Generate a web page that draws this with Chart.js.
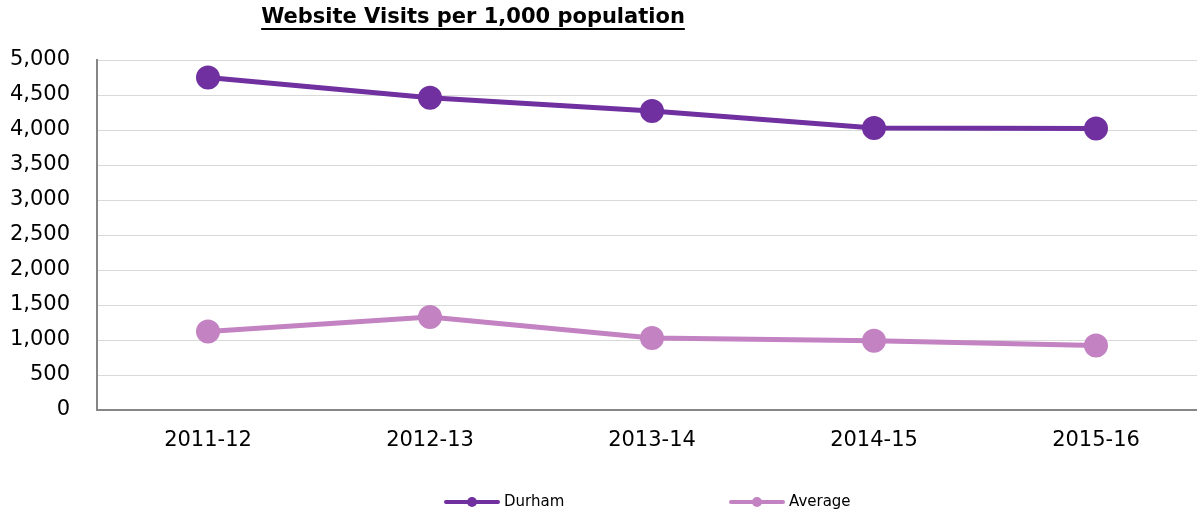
<!DOCTYPE html>
<html>
<head>
<meta charset="utf-8">
<script src="https://cdn.jsdelivr.net/npm/chart.js@4/dist/chart.umd.min.js"></script>
<style>
  html, body { margin: 0; padding: 0; background: #fff; overflow: hidden; }
  /* plot runs a little past the right edge, as in the original */
  #wrap { width: 1207px; height: 513px; }
</style>
</head>
<body>
<div id="wrap"><canvas id="chart"></canvas></div>
<script>
const years = ["2011-12", "2012-13", "2013-14", "2014-15", "2015-16"];
const durham = [4750, 4460, 4270, 4030, 4020];
const average = [1120, 1330, 1030, 990, 920];
const seriesNames = ["Durham", "Average"];
const seriesColors = ["#7030A0", "#C382C2"];
const chartTitle = "Website Visits per 1,000 population";

const font = "'DejaVu Sans', Verdana, sans-serif";

// title with underline, drawn by hand since Chart.js has no underline
const titlePlugin = {
    id: "ulTitle",
    afterDraw(chart) {
        const ctx = chart.ctx;
        ctx.save();
        ctx.font = "bold 21px " + font;
        ctx.fillStyle = "#000";
        ctx.textAlign = "center";
        ctx.textBaseline = "middle";
        const cx = 473, cy = 18;
        ctx.fillText(chartTitle, cx, cy);
        const w = ctx.measureText(chartTitle).width;
        ctx.fillRect(cx - w / 2, cy + 10, w, 2);
        ctx.restore();
    }
};

// legend with line + marker
const legendPlugin = {
    id: "lineLegend",
    afterDraw(chart) {
        const ctx = chart.ctx;
        const starts = [446, 731];
        ctx.save();
        ctx.font = "15px " + font;
        ctx.textBaseline = "middle";
        chart.data.datasets.forEach((ds, i) => {
            const x = starts[i], y = 502;
            ctx.strokeStyle = ds.borderColor;
            ctx.lineWidth = 4;
            ctx.lineCap = "round";
            ctx.beginPath();
            ctx.moveTo(x, y);
            ctx.lineTo(x + 52, y);
            ctx.stroke();
            ctx.fillStyle = ds.borderColor;
            ctx.beginPath();
            ctx.arc(x + 26, y, 5, 0, Math.PI * 2);
            ctx.fill();
            ctx.fillStyle = "#000";
            ctx.fillText(ds.label, x + 58, y);
        });
        ctx.restore();
    }
};

new Chart(document.getElementById("chart").getContext("2d"), {
    type: "line",
    data: {
        labels: years,
        datasets: [
            {
                label: seriesNames[0],
                data: durham,
                borderColor: seriesColors[0],
                backgroundColor: seriesColors[0],
                borderWidth: 5,
                pointRadius: 9.5,
                pointHoverRadius: 9.5,
                tension: 0
            },
            {
                label: seriesNames[1],
                data: average,
                borderColor: seriesColors[1],
                backgroundColor: seriesColors[1],
                borderWidth: 5,
                pointRadius: 9.5,
                pointHoverRadius: 9.5,
                tension: 0
            }
        ]
    },
    options: {
        responsive: true,
        maintainAspectRatio: false,
        animation: false,
        layout: { autoPadding: false, padding: { top: 60, left: 0, right: 0, bottom: 0 } },
        plugins: {
            legend: { display: false },
            title: { display: false },
            tooltip: { enabled: false }
        },
        scales: {
            x: {
                offset: true,
                grid: { display: false, drawTicks: false },
                border: { color: "#868686", width: 2 },
                ticks: { color: "#000", padding: 18, font: { family: font, size: 21 } },
                afterFit(scale) {
                    scale.height = 103;
                    scale.paddingLeft = 0;
                    scale.paddingRight = 0;
                }
            },
            y: {
                min: 0,
                max: 5000,
                grid: { color: "#d9d9d9", drawTicks: false },
                border: { color: "#868686", width: 2 },
                ticks: {
                    stepSize: 500,
                    color: "#000",
                    padding: 27,
                    font: { family: font, size: 21 },
                    callback: v => v.toLocaleString("en-US")
                },
                afterFit(scale) {
                    scale.width = 97;
                    scale.paddingTop = 0;
                    scale.paddingBottom = 0;
                }
            }
        }
    },
    plugins: [titlePlugin, legendPlugin]
});
</script>
</body>
</html>
